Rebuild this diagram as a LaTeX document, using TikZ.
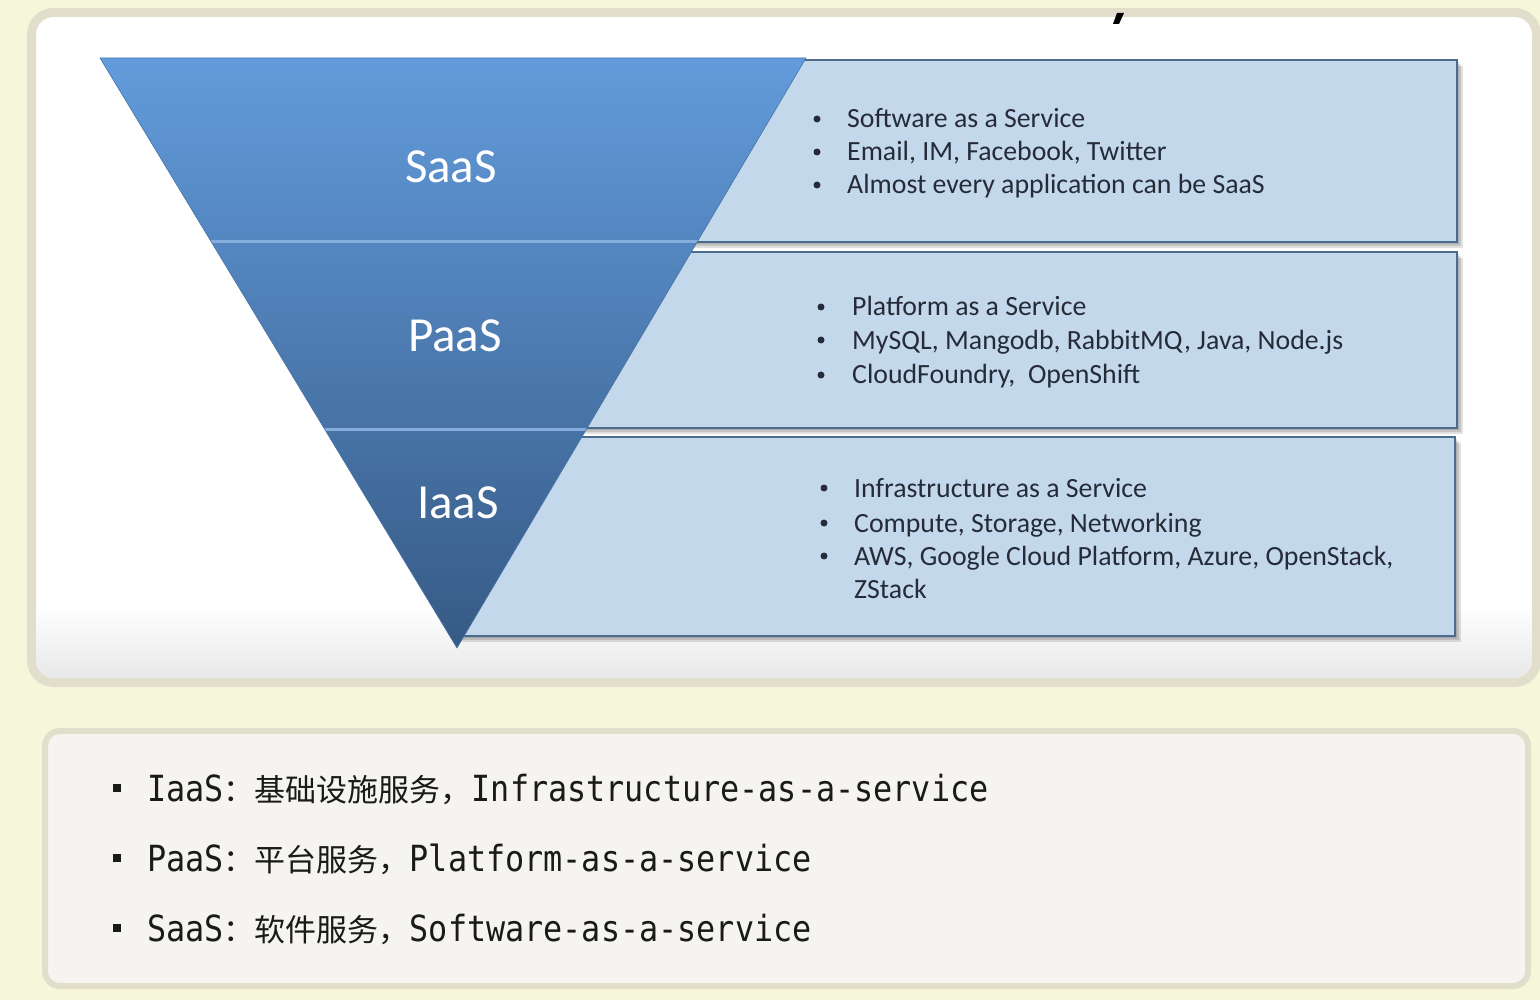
\documentclass[tikz,border=0pt]{standalone}
\usepackage{fontspec}
\setmainfont{Carlito}
\newfontfamily\cjkf{Noto Sans CJK SC}
\newfontfamily\monof[FakeStretch=0.883]{DejaVu Sans Mono}
\definecolor{cream}{HTML}{F6F6DA}
\definecolor{panelborder}{HTML}{E1DFCC}
\definecolor{lowfill}{HTML}{F6F4F1}
\definecolor{tritop}{HTML}{629BDB}
\definecolor{tribot}{HTML}{365A85}
\definecolor{sepblue}{HTML}{86AEDD}
\definecolor{boxfill}{HTML}{C4D8EC}
\definecolor{boxline}{HTML}{4C6B90}
\definecolor{boxtext}{HTML}{252B38}
\definecolor{monotext}{HTML}{1A1A1A}
\tikzset{
  panel/.style={line width=9pt, draw=panelborder, fill=white, rounded corners=22pt},
  lowpanel/.style={line width=6pt, draw=panelborder, fill=lowfill, rounded corners=15pt},
  tierbox/.style={fill=boxfill, draw=boxline, line width=2pt},
  boxshadow/.style={fill=black, opacity=0.12},
  tierlabel/.style={text=white, font=\fontsize{49}{55}\selectfont, inner sep=0pt},
  itemtext/.style={text=boxtext, font=\fontsize{27.8}{33}\selectfont, inner sep=0pt, anchor=base west},
  dotmark/.style={circle, fill=boxtext, inner sep=0pt, minimum size=7pt},
  monoline/.style={text=monotext, font=\monof\fontsize{36}{40}\selectfont, inner sep=0pt, anchor=base west},
  sqbullet/.style={fill=monotext}
}
\begin{document}
\begin{tikzpicture}[x=1pt,y=-1pt]
\useasboundingbox (0,0) rectangle (1540,1000);
\fill[cream] (0,0) rectangle (1540,1000);
% top panel
\draw[panel] (31.5,12.5) rectangle (1536.5,682.5);
\begin{scope}
  \clip[rounded corners=18pt] (36,17) rectangle (1532,678);
  \shade[top color=white, bottom color=black!9] (36,605) rectangle (1532,678);
\end{scope}
% small mark at top
\fill[black] (1117,13) -- (1124,13) -- (1119,24) -- (1113,24) -- cycle;
% boxes: shadows
\foreach \d in {2,4,6} {
  \fill[boxshadow] (300+\d,60+\d) rectangle (1457+\d,242+\d);
  \fill[boxshadow] (400+\d,252+\d) rectangle (1457+\d,428+\d);
  \fill[boxshadow] (456+\d,437+\d) rectangle (1455+\d,636+\d);
}
\draw[tierbox] (300,60) rectangle (1457,242);
\draw[tierbox] (400,252) rectangle (1457,428);
\draw[tierbox] (456,437) rectangle (1455,636);
% triangle
\shade[top color=tritop, bottom color=tribot] (100,58) -- (806,58) -- (457,648) -- cycle;
\begin{scope}
  \clip (100,58) -- (806,58) -- (457,648) -- cycle;
  \draw[sepblue, line width=3pt] (100,242) -- (806,242);
  \draw[sepblue, line width=3pt] (100,429) -- (806,429);
\end{scope}
\draw[tribot!60!tritop, line width=0.6pt, line join=round] (100,58) -- (806,58) -- (457,648) -- cycle;
% labels
\node[tierlabel] (saas) at (451,167) {SaaS};
\node[tierlabel] (paas) at (455,336) {PaaS};
\node[tierlabel] (iaas) at (458,503) {IaaS};
% SaaS items
\node[dotmark] (sb1) at (817,119) {};
\node[dotmark] (sb2) at (817,152) {};
\node[dotmark] (sb3) at (817,185) {};
\node[itemtext] (s1) at (847,128) {Software as a Service};
\node[itemtext] (s2) at (847,161) {Email, IM, Facebook, Twitter};
\node[itemtext] (s3) at (847,194) {Almost every application can be SaaS};
% PaaS items
\node[dotmark] (pb1) at (821,307) {};
\node[dotmark] (pb2) at (821,340) {};
\node[dotmark] (pb3) at (821,375) {};
\node[itemtext] (p1) at (852,316) {Platform as a Service};
\node[itemtext] (p2) at (852,349) {MySQL, Mangodb, RabbitMQ, Java, Node.js};
\node[itemtext] (p3) at (852,384) {CloudFoundry,\ \ OpenShift};
% IaaS items
\node[dotmark] (ib1) at (824,488) {};
\node[dotmark] (ib2) at (824,523) {};
\node[dotmark] (ib3) at (824,556) {};
\node[itemtext] (i1) at (854,497) {Infrastructure as a Service};
\node[itemtext] (i2) at (854,532) {Compute, Storage, Networking};
\node[itemtext] (i3) at (854,565) {AWS, Google Cloud Platform, Azure, OpenStack,};
\node[itemtext] (i4) at (854,598) {ZStack};
% lower panel
\draw[lowpanel] (45,731) rectangle (1528,986);
\fill[sqbullet] (113,784) rectangle (121,792);
\fill[sqbullet] (113,854) rectangle (121,862);
\fill[sqbullet] (113,924) rectangle (121,932);
\node[monoline] (l1) at (147,801) {IaaS{\cjkf\fontsize{31}{36}\selectfont ：基础设施服务，}Infrastructure-as-a-service};
\node[monoline] (l2) at (147,871) {PaaS{\cjkf\fontsize{31}{36}\selectfont ：平台服务，}Platform-as-a-service};
\node[monoline] (l3) at (147,941) {SaaS{\cjkf\fontsize{31}{36}\selectfont ：软件服务，}Software-as-a-service};
\end{tikzpicture}
\end{document}
